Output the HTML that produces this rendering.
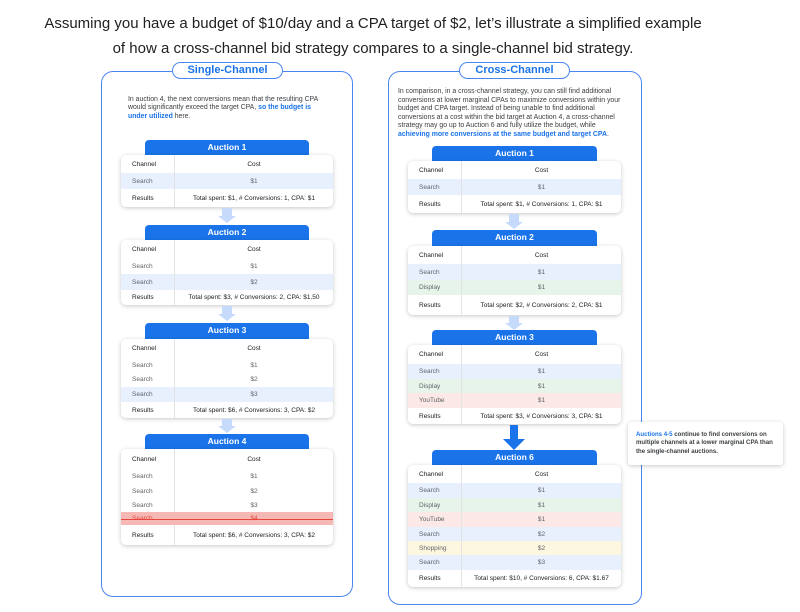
<!DOCTYPE html>
<html><head><meta charset="utf-8"><style>
*{margin:0;padding:0;box-sizing:border-box}
body{width:800px;height:612px;background:#fff;position:relative;overflow:hidden;font-family:"Liberation Sans",Arial,sans-serif;color:#202124}
.a{position:absolute}
.title{left:0;width:746px;top:11px;text-align:center;font-size:15px;line-height:25px;color:#202124}
.panel{border:1.5px solid #4a86f0;border-radius:12px}
.pill{border:1.5px solid #4a86f0;border-radius:9px;background:#fff;color:#1a73e8;font-size:11px;font-weight:bold;text-align:center;line-height:14px}
.txt{font-size:6.9px;line-height:8.3px;color:#3c4043}
.txt b{color:#1a73e8}
.hdr{background:#1a73e8;color:#fff;font-weight:bold;font-size:8.5px;text-align:center;border-radius:4px 4px 0 0;line-height:15px}
.card{background:#fff;border-radius:5px;box-shadow:0 1px 4px rgba(0,0,0,.22);overflow:hidden}
.r{display:flex;font-size:6.5px;color:#5f6368;align-items:center;position:relative}
.r .c1{width:54px;padding-left:11px;height:100%;display:flex;align-items:center;border-right:1px solid #e3e3e3}
.r .c2{flex:1;text-align:center}
.r.h .c1,.r.h .c2,.r.res .c1{color:#202124}
.r.res .c2{color:#202124}
.bl{background:#e8f0fe}.gr{background:#e6f4ea}.rd{background:#fce8e6}.ye{background:#fef7e0}
.st{background:#f6b8b4;color:#e04a3f}
.st:after{content:"";position:absolute;left:0;right:0;top:50%;border-top:1px solid #e8453c}
</style></head><body>
<div class="a title">Assuming you have a budget of $10/day and a CPA target of $2, let’s illustrate a simplified example<br>of how a cross-channel bid strategy compares to a single-channel bid strategy.</div>

<!-- LEFT -->
<div class="a panel" style="left:101px;top:71px;width:252px;height:526px"></div>
<div class="a pill" style="left:172px;top:62px;width:111px;height:17px">Single-Channel</div>
<div class="a txt" style="left:128px;top:96px;width:206px">In auction 4, the next conversions mean that the resulting CPA<br>would significantly exceed the target CPA, <b>so the budget is<br>under utilized</b> here.</div>

<div class="a hdr" style="left:145px;top:140px;width:164px;height:16px">Auction 1</div>
<div class="a card" style="left:121px;top:155px;width:212px;height:52px">
<div class="r h" style="height:18px"><div class="c1">Channel</div><div class="c2">Cost</div></div>
<div class="r bl" style="height:16px"><div class="c1">Search</div><div class="c2">$1</div></div>
<div class="r res" style="height:18px"><div class="c1">Results</div><div class="c2">Total spent: $1, # Conversions: 1, CPA: $1</div></div>
</div>
<div class="a" style="left:222px;top:208px;width:10px;height:8px;background:#c6dafc"></div>
<div class="a" style="left:218px;top:216px;border-left:9px solid transparent;border-right:9px solid transparent;border-top:7px solid #c6dafc"></div>

<div class="a hdr" style="left:145px;top:225px;width:164px;height:16px">Auction 2</div>
<div class="a card" style="left:121px;top:240px;width:212px;height:65px">
<div class="r h" style="height:19px"><div class="c1">Channel</div><div class="c2">Cost</div></div>
<div class="r" style="height:15px"><div class="c1">Search</div><div class="c2">$1</div></div>
<div class="r bl" style="height:16px"><div class="c1">Search</div><div class="c2">$2</div></div>
<div class="r res" style="height:15px"><div class="c1">Results</div><div class="c2">Total spent: $3, # Conversions: 2, CPA: $1.50</div></div>
</div>
<div class="a" style="left:222px;top:306px;width:10px;height:8px;background:#c6dafc"></div>
<div class="a" style="left:218px;top:314px;border-left:9px solid transparent;border-right:9px solid transparent;border-top:7px solid #c6dafc"></div>

<div class="a hdr" style="left:145px;top:323px;width:164px;height:16px">Auction 3</div>
<div class="a card" style="left:121px;top:339px;width:212px;height:79px">
<div class="r h" style="height:19px"><div class="c1">Channel</div><div class="c2">Cost</div></div>
<div class="r" style="height:14px"><div class="c1">Search</div><div class="c2">$1</div></div>
<div class="r" style="height:15px"><div class="c1">Search</div><div class="c2">$2</div></div>
<div class="r bl" style="height:15px"><div class="c1">Search</div><div class="c2">$3</div></div>
<div class="r res" style="height:16px"><div class="c1">Results</div><div class="c2">Total spent: $6, # Conversions: 3, CPA: $2</div></div>
</div>
<div class="a" style="left:222px;top:419px;width:10px;height:7px;background:#c6dafc"></div>
<div class="a" style="left:218px;top:426px;border-left:9px solid transparent;border-right:9px solid transparent;border-top:7px solid #c6dafc"></div>

<div class="a hdr" style="left:145px;top:434px;width:164px;height:16px">Auction 4</div>
<div class="a card" style="left:121px;top:449px;width:212px;height:96px">
<div class="r h" style="height:20px"><div class="c1">Channel</div><div class="c2">Cost</div></div>
<div class="r" style="height:15px"><div class="c1">Search</div><div class="c2">$1</div></div>
<div class="r" style="height:14px"><div class="c1">Search</div><div class="c2">$2</div></div>
<div class="r" style="height:14px"><div class="c1">Search</div><div class="c2">$3</div></div>
<div class="r st" style="height:13px"><div class="c1" style="border:none">Search</div><div class="c2">$4</div></div>
<div class="r res" style="height:20px"><div class="c1">Results</div><div class="c2">Total spent: $6, # Conversions: 3, CPA: $2</div></div>
</div>

<!-- RIGHT -->
<div class="a panel" style="left:388px;top:71px;width:254px;height:534px"></div>
<div class="a pill" style="left:459px;top:62px;width:111px;height:17px">Cross-Channel</div>
<div class="a txt" style="left:398px;top:88px;width:240px;line-height:8.6px">In comparison, in a cross-channel strategy, you can still find additional<br>conversions at lower marginal CPAs to maximize conversions within your<br>budget and CPA target. Instead of being unable to find additional<br>conversions at a cost within the bid target at Auction 4, a cross-channel<br>strategy may go up to Auction 6 and fully utilize the budget, while<br><b>achieving more conversions at the same budget and target CPA</b>.</div>

<div class="a hdr" style="left:432px;top:146px;width:165px;height:16px">Auction 1</div>
<div class="a card" style="left:408px;top:161px;width:213px;height:52px">
<div class="r h" style="height:18px"><div class="c1">Channel</div><div class="c2">Cost</div></div>
<div class="r bl" style="height:16px"><div class="c1">Search</div><div class="c2">$1</div></div>
<div class="r res" style="height:18px"><div class="c1">Results</div><div class="c2">Total spent: $1, # Conversions: 1, CPA: $1</div></div>
</div>
<div class="a" style="left:509px;top:214px;width:10px;height:8px;background:#c6dafc"></div>
<div class="a" style="left:505px;top:222px;border-left:9px solid transparent;border-right:9px solid transparent;border-top:7px solid #c6dafc"></div>

<div class="a hdr" style="left:432px;top:230px;width:165px;height:16px">Auction 2</div>
<div class="a card" style="left:408px;top:246px;width:213px;height:69px">
<div class="r h" style="height:18px"><div class="c1">Channel</div><div class="c2">Cost</div></div>
<div class="r bl" style="height:16px"><div class="c1">Search</div><div class="c2">$1</div></div>
<div class="r gr" style="height:15px"><div class="c1">Display</div><div class="c2">$1</div></div>
<div class="r res" style="height:20px"><div class="c1">Results</div><div class="c2">Total spent: $2, # Conversions: 2, CPA: $1</div></div>
</div>
<div class="a" style="left:509px;top:316px;width:10px;height:7px;background:#c6dafc"></div>
<div class="a" style="left:505px;top:323px;border-left:9px solid transparent;border-right:9px solid transparent;border-top:7px solid #c6dafc"></div>

<div class="a hdr" style="left:432px;top:330px;width:165px;height:16px">Auction 3</div>
<div class="a card" style="left:408px;top:345px;width:213px;height:79px">
<div class="r h" style="height:19px"><div class="c1">Channel</div><div class="c2">Cost</div></div>
<div class="r bl" style="height:15px"><div class="c1">Search</div><div class="c2">$1</div></div>
<div class="r gr" style="height:14px"><div class="c1">Display</div><div class="c2">$1</div></div>
<div class="r rd" style="height:15px"><div class="c1">YouTube</div><div class="c2">$1</div></div>
<div class="r res" style="height:16px"><div class="c1">Results</div><div class="c2">Total spent: $3, # Conversions: 3, CPA: $1</div></div>
</div>
<div class="a" style="left:510px;top:425px;width:8px;height:15px;background:#1a73e8"></div>
<div class="a" style="left:503px;top:439px;border-left:11px solid transparent;border-right:11px solid transparent;border-top:11px solid #1a73e8"></div>

<div class="a hdr" style="left:432px;top:450px;width:165px;height:16px">Auction 6</div>
<div class="a card" style="left:408px;top:465px;width:213px;height:122px">
<div class="r h" style="height:18px"><div class="c1">Channel</div><div class="c2">Cost</div></div>
<div class="r bl" style="height:15px"><div class="c1">Search</div><div class="c2">$1</div></div>
<div class="r gr" style="height:14px"><div class="c1">Display</div><div class="c2">$1</div></div>
<div class="r rd" style="height:15px"><div class="c1">YouTube</div><div class="c2">$1</div></div>
<div class="r bl" style="height:14px"><div class="c1">Search</div><div class="c2">$2</div></div>
<div class="r ye" style="height:14px"><div class="c1">Shopping</div><div class="c2">$2</div></div>
<div class="r bl" style="height:15px"><div class="c1">Search</div><div class="c2">$3</div></div>
<div class="r res" style="height:17px"><div class="c1">Results</div><div class="c2">Total spent: $10, # Conversions: 6, CPA: $1.67</div></div>
</div>

<div class="a card" style="left:628px;top:422px;width:155px;height:43px;border-radius:3px;padding:9px 0 0 8px;font-size:6.1px;line-height:8.3px;color:#3c4043;font-weight:bold"><span style="color:#1a73e8">Auctions 4-5</span> continue to find conversions on multiple channels at a lower marginal CPA than the single-channel auctions.</div>
</body></html>
